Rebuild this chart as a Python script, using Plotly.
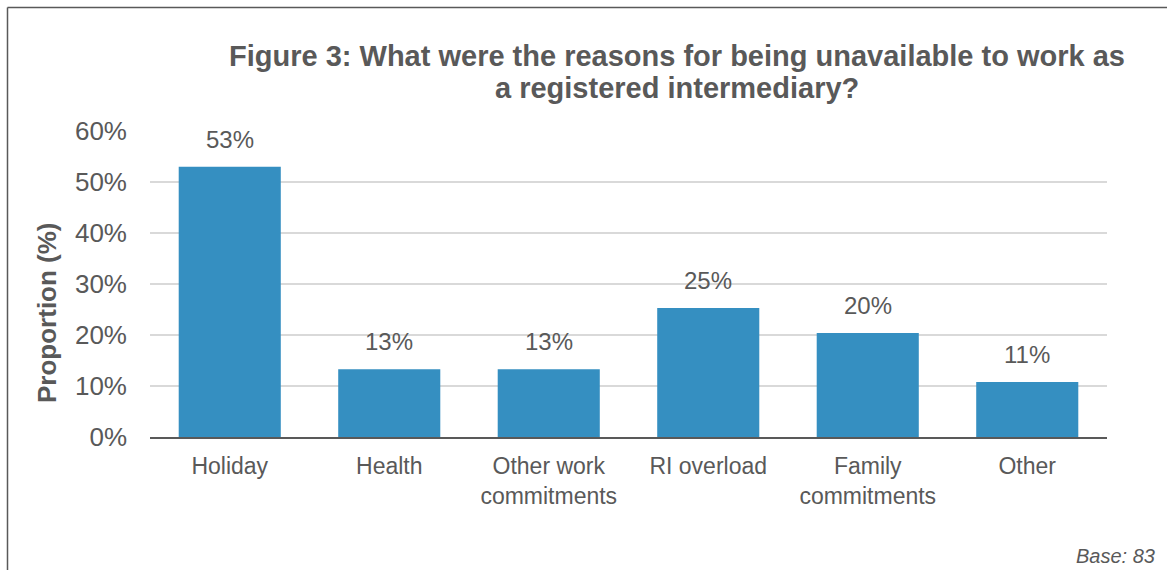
import plotly.graph_objects as go

# Survey results: reasons for being unavailable (base 83)
categories = ["Holiday", "Health", "Other work<br>commitments", "RI overload",
              "Family<br>commitments", "Other"]
proportions = [0.530, 0.133, 0.133, 0.253, 0.204, 0.108]
y_ticks = [0, 0.1, 0.2, 0.3, 0.4, 0.5, 0.6]
y_tick_labels = ["0%", "10%", "20%", "30%", "40%", "50%", "60%"]

W, H = 1167, 570
ML, MR, MT, MB = 150, 60, 131, 133
plot_w = W - ML - MR
plot_h = H - MT - MB

TEXT = "#595959"
FONT = "Liberation Sans, Arial, sans-serif"


def px_x(px):
    return (px - ML) / plot_w


def px_y(py):
    return (H - MB - py) / plot_h


fig = go.Figure(
    go.Bar(
        x=categories,
        y=proportions,
        marker=dict(color="#358fc1", line=dict(width=0)),
        cliponaxis=False,
    )
)

# Value labels above each bar
for cat, val in zip(categories, proportions):
    fig.add_annotation(
        x=cat, y=val, text=f"{val:.0%}",
        xref="x", yref="y",
        xanchor="center", yanchor="bottom",
        yshift=12, showarrow=False,
        font=dict(size=24, color=TEXT, family=FONT),
    )

fig.update_layout(
    width=W,
    height=H,
    margin=dict(l=ML, r=MR, t=MT, b=MB),
    paper_bgcolor="white",
    plot_bgcolor="white",
    bargap=0.36,
    showlegend=False,
    font=dict(family=FONT, color=TEXT, size=22),
    xaxis=dict(
        tickfont=dict(size=23, color=TEXT),
        showline=True,
        linecolor="#595959",
        linewidth=2,
        ticks="",
        showgrid=False,
        ticklabelstandoff=7,
    ),
    yaxis=dict(
        range=[0, 0.6],
        tickvals=y_ticks,
        ticktext=y_tick_labels,
        tickfont=dict(size=26, color=TEXT),
        ticks="",
        showgrid=True,
        gridcolor="#d9d9d9",
        gridwidth=2,
        zeroline=False,
        ticklabelstandoff=22,
    ),
)

# Axis title, rotated
fig.add_annotation(
    text="<b>Proportion (%)</b>",
    xref="paper", yref="paper",
    x=px_x(47), y=px_y(313),
    xanchor="center", yanchor="middle",
    textangle=-90, showarrow=False,
    font=dict(size=26, color=TEXT, family=FONT),
)

# Two-line bold title
title_lines = ["Figure 3: What were the reasons for being unavailable to work as",
               "a registered intermediary?"]
for line, y_mid in zip(title_lines, [56, 88]):
    fig.add_annotation(
        text=f"<b>{line}</b>",
        xref="paper", yref="paper",
        x=px_x(677), y=px_y(y_mid),
        xanchor="center", yanchor="middle",
        showarrow=False,
        font=dict(size=29, color=TEXT, family=FONT),
    )

# Base note
fig.add_annotation(
    text="<i>Base: 83</i>",
    xref="paper", yref="paper",
    x=px_x(1157), y=px_y(556),
    xanchor="right", yanchor="middle",
    showarrow=False,
    font=dict(size=20, color=TEXT, family=FONT),
)

# Frame lines along the top and left edges
frame = dict(color="#595959", width=1.5)
fig.add_shape(type="line", xref="paper", yref="paper",
              x0=px_x(7.5), x1=px_x(W + 5), y0=px_y(7.5), y1=px_y(7.5), line=frame)
fig.add_shape(type="line", xref="paper", yref="paper",
              x0=px_x(7.5), x1=px_x(7.5), y0=px_y(7.5), y1=px_y(H + 5), line=frame)

fig.write_html("out.html")
